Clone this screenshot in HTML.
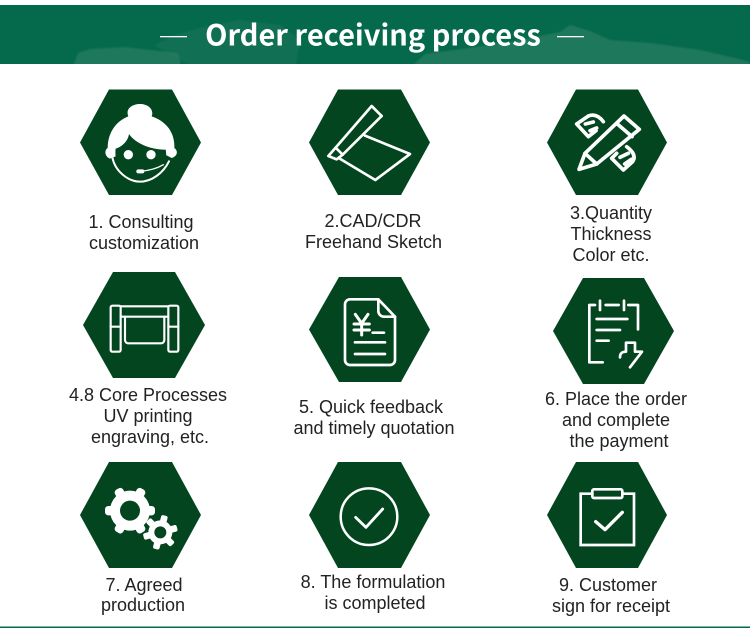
<!DOCTYPE html>
<html><head><meta charset="utf-8">
<style>
html,body{margin:0;padding:0;background:#fff;width:750px;height:628px;overflow:hidden}
svg{display:block}
.l text{font-family:"Liberation Sans",sans-serif;font-size:18px;fill:#222;text-anchor:middle}
.i{fill:none;stroke:#fff;stroke-linecap:round;stroke-linejoin:round}
</style></head><body>
<svg width="750" height="628" viewBox="0 0 750 628" xmlns="http://www.w3.org/2000/svg">
<defs>
<filter id="b"><feGaussianBlur stdDeviation=".8"/></filter>
<clipPath id="hc"><rect x="0" y="5" width="750" height="59"/></clipPath>
</defs>
<rect x="0" y="5" width="750" height="59" fill="#056a4b"/>
<g clip-path="url(#hc)">
<g fill="#2a7e62" filter="url(#b)">
<path d="M72,70 L78,53 L90,49 L125,47 L150,50 L178,53 L182,70Z" opacity=".7"/>
<path d="M155,45 L175,35 L200,28 L240,20 L280,25 L300,40 L295,70 L200,70 L170,55Z" opacity=".3"/>
<path d="M408,70 L425,54 L470,48 L520,40 L560,32 L570,25 L590,31 L610,40 L650,43 L700,50 L735,58 L750,62 L750,70Z" opacity=".7"/>
</g>
</g>
<text x="373" y="45.500" font-family="'Noto Sans CJK SC','Liberation Sans',sans-serif" font-weight="700" font-size="29" fill="#fff" text-anchor="middle">Order receiving process</text>
<rect x="160" y="36" width="27" height="1.300" fill="#fff"/>
<rect x="557" y="36" width="27" height="1.300" fill="#fff"/>

<g fill="#02451f">
<polygon points="80,142.500 109,89.500 172,89.500 201,142.500 172,195 109,195"/>
<polygon points="309,142.500 338,89.500 401,89.500 430,142.500 401,195 338,195"/>
<polygon points="547,142.500 576,89.500 638,89.500 667,142.500 638,195 576,195"/>
<polygon points="83,325 113,272 175,272 205,325 175,378 113,378"/>
<polygon points="309,329.500 339,277 401,277 430,329.500 401,382 339,382"/>
<polygon points="553,331 583,278 644,278 674,331 644,384 583,384"/>
<polygon points="80,515 109,462 172,462 201,515 172,568 109,568"/>
<polygon points="309,515 338,462 401,462 430,515 401,568 338,568"/>
<polygon points="547,515 576,462 638,462 667,515 638,568 576,568"/>
</g>

<!-- 1 -->
<g transform="translate(95,98) scale(.33333)">
<path fill="#fff" d="M45,182 C28,175 28,155 38,150 C38,105 62,70 100,55 C90,30 115,18 135,18 C160,18 178,35 170,55 C215,70 240,105 238,150 C250,158 248,175 230,180 L215,172 L62,175Z"/>
<path fill="#02451f" d="M62,152 C85,145 100,125 102,108 C120,135 165,155 212,155 C222,200 180,245 135,245 C95,245 55,205 62,152Z"/>
<path class="i" stroke-width="6" d="M52,178 C60,220 100,251 135,251 C170,251 205,225 222,190"/>
<circle cx="100" cy="170" r="14" fill="#fff"/><circle cx="168" cy="170" r="14" fill="#fff"/>
<path class="i" stroke-width="4" d="M135,220 C160,218 185,212 205,200"/>
<rect x="124" y="214" width="24" height="12" rx="6" fill="#fff"/>
</g>
<!-- 2 -->
<g transform="translate(70,80) scale(.33333)" class="i" stroke-width="8">
<path d="M905,78 L935,108 L818,224 L797,203Z"/>
<path d="M797,203 L775,228 L800,238 L818,224"/>
<path d="M885,167 L1020,222 L916,300 L806,234"/>
</g>
<!-- 3 -->
<g transform="translate(560,100) scale(.33333)" class="i" stroke-width="11">
<path d="M57,208 L75,160 L192,48 L238,88 L110,192Z"/>
<path d="M170,70 L216,110 M75,160 L110,192"/>
<path d="M130,65 C115,45 100,42 85,48 L50,72 L85,110 L108,92 M76,72 L100,66 M90,92 L110,84"/>
<path d="M200,140 C220,155 228,170 218,185 L190,210 L155,175 L170,160 M180,172 L205,160 M194,192 L214,178"/>
</g>
<!-- 4 -->
<g transform="translate(70,265) scale(.33333)" class="i" stroke-width="6.500">
<rect x="122" y="122" width="30" height="138" rx="5"/>
<rect x="295" y="122" width="30" height="138" rx="5"/>
<path d="M152,124 H295 M152,155 H295 M122,185 H152 M295,185 H325"/>
<path d="M165,155 V225 a10,10 0 0 0 10,10 H273 a10,10 0 0 0 10,-10 V155"/>
</g>
<!-- 5 -->
<g transform="translate(70,265) scale(.33333)" class="i" stroke-width="8">
<path d="M925,103 H840 a15,15 0 0 0 -15,15 V285 a15,15 0 0 0 15,15 H960 a15,15 0 0 0 15,-15 V155Z"/>
<path d="M925,103 V138 a17,17 0 0 0 17,17 H975"/>
<path d="M855,232 H945 M855,267 H945 M908,203 H942"/>
<path stroke-width="9" d="M856,148 L875,175 L894,148 M852,177 H898 M852,195 H898 M875,175 V210"/>
</g>
<!-- 6 -->
<g transform="translate(540,270) scale(.33333)" class="i" stroke-width="8">
<path d="M165,105 H148 V277 H188 M265,105 H294 V178 M197,105 H236 M180,92 V120 M252,92 V120"/>
<path d="M170,147 H262 M170,180 H240 M170,212 H206"/>
<path d="M240,262 C240,250 246,245 258,245 V218 H285 V245 H306 L270,292"/>
</g>
<!-- 7 -->
<g transform="translate(70,455) scale(.33333)">
<g fill="#fff">
<circle cx="180" cy="167" r="60"/>
<rect x="166" y="92" width="28" height="150" rx="10" transform="rotate(30 180 167)"/>
<rect x="166" y="92" width="28" height="150" rx="10" transform="rotate(90 180 167)"/>
<rect x="166" y="92" width="28" height="150" rx="10" transform="rotate(150 180 167)"/>
</g>
<circle cx="180" cy="167" r="30" fill="#02451f"/>
<circle cx="271" cy="232" r="42" fill="#02451f"/>
<g fill="#fff">
<circle cx="271" cy="232" r="36"/>
<rect x="261" y="180" width="20" height="104" rx="6" transform="rotate(15 271 232)"/>
<rect x="261" y="180" width="20" height="104" rx="6" transform="rotate(75 271 232)"/>
<rect x="261" y="180" width="20" height="104" rx="6" transform="rotate(135 271 232)"/>
</g>
<circle cx="271" cy="232" r="18" fill="#02451f"/>
</g>
<!-- 8 -->
<g transform="translate(70,455) scale(.33333)" class="i" stroke-width="7.500">
<circle cx="897" cy="185" r="85"/>
<path stroke-width="8.500" d="M857,187 L888,217 L938,162"/>
</g>
<!-- 9 -->
<g transform="translate(530,455) scale(.33333)" class="i" stroke-width="8">
<path stroke-linejoin="miter" d="M187,116 H152 V270 H312 V116 H277"/>
<rect x="187" y="103" width="90" height="26" rx="5"/>
<path stroke-width="10" d="M197,200 L225,224 L277,172"/>
</g>

<g class="l">
<text x="141" y="228">1. Consulting</text><text x="144" y="249">customization</text>
<text x="373" y="227">2.CAD/CDR</text><text x="373.500" y="248">Freehand Sketch</text>
<text x="611" y="219">3.Quantity</text><text x="611" y="240">Thickness</text><text x="611" y="261">Color etc.</text>
<text x="148" y="401">4.8 Core Processes</text><text x="148" y="422">UV printing</text><text x="150" y="443">engraving, etc.</text>
<text x="371" y="413">5. Quick feedback</text><text x="374" y="434">and timely quotation</text>
<text x="616" y="405">6. Place the order</text><text x="616" y="426">and complete</text><text x="619" y="447">the payment</text>
<text x="144" y="591">7. Agreed</text><text x="143" y="611">production</text>
<text x="373" y="588">8. The formulation</text><text x="375" y="609">is completed</text>
<text x="608" y="591">9. Customer</text><text x="611" y="612">sign for receipt</text>
</g>
<rect x="0" y="626.500" width="750" height="1.500" fill="#056a4b"/>
</svg>
</body></html>
